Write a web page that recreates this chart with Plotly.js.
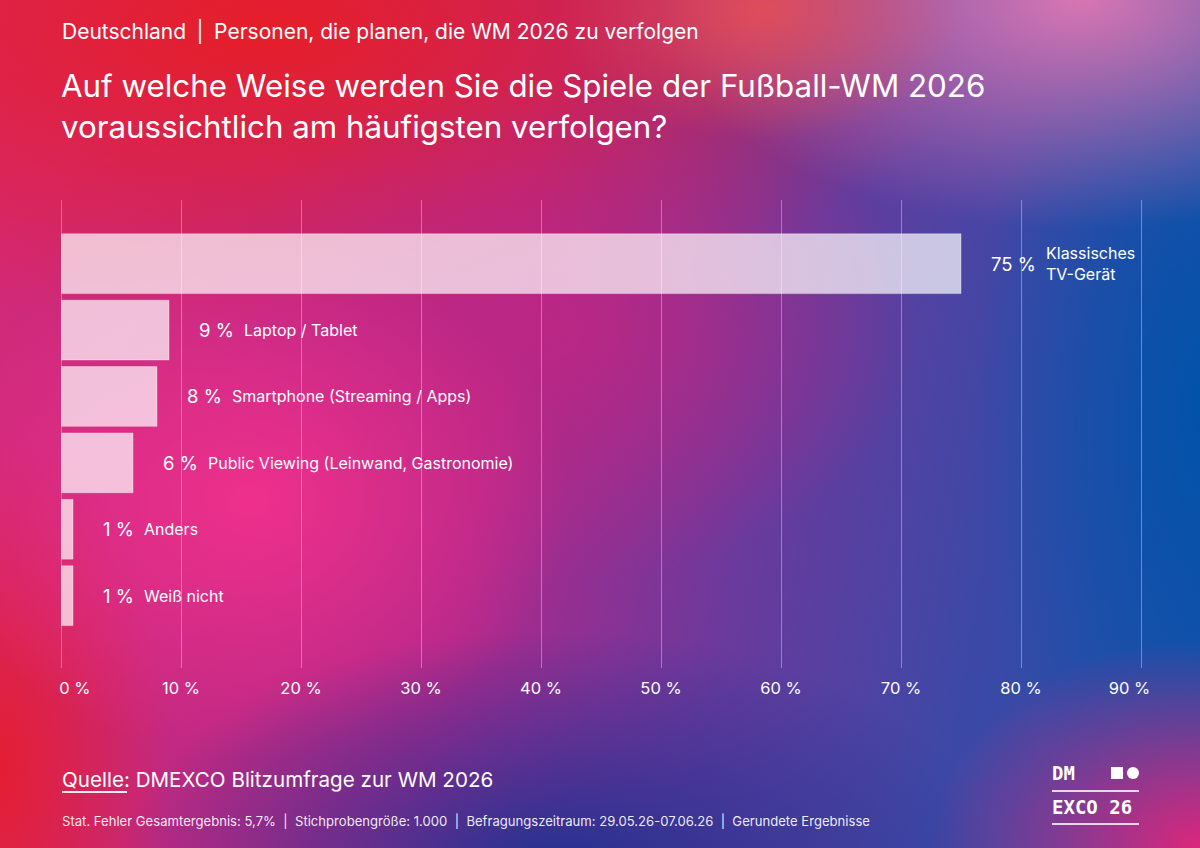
<!DOCTYPE html>
<html><head><meta charset="utf-8">
<script src="https://cdn.plot.ly/plotly-3.0.1.min.js"></script>
<style>
html,body{margin:0;padding:0;width:1200px;height:848px;overflow:hidden;}
#bg{position:absolute;left:0;top:0;width:1200px;height:848px;
background:
 radial-gradient(ellipse 270px 210px at 1200px 848px, rgba(232,36,120,0.95), rgba(232,36,120,0) 100%),
 radial-gradient(ellipse 200px 130px at 760px 10px, rgba(236,80,80,0.8), rgba(236,80,80,0) 100%),
 radial-gradient(ellipse 420px 230px at 1080px 0px, rgba(215,118,178,1), rgba(215,118,178,0) 100%),
 radial-gradient(ellipse 240px 490px at 1215px 410px, rgba(0,82,170,1), rgba(0,82,170,0) 100%),
 radial-gradient(ellipse 440px 240px at 560px 870px, rgba(34,50,145,1), rgba(34,50,145,0) 100%),
 radial-gradient(ellipse 320px 260px at 250px 500px, rgba(238,48,140,1), rgba(238,48,140,0) 100%),
 radial-gradient(ellipse 360px 250px at 560px 330px, rgba(190,38,130,0.85), rgba(190,38,130,0) 100%),
 radial-gradient(ellipse 720px 300px at 260px 30px, rgba(230,30,40,1), rgba(230,30,40,0) 100%),
 radial-gradient(ellipse 170px 330px at 0px 770px, rgba(228,30,50,1), rgba(228,30,50,0) 100%),
 linear-gradient(100deg, #d42a78 0%, #b0288a 42%, #6a3a9c 62%, #3e48a6 80%, #1a52aa 100%);
}
#chart{position:absolute;left:0;top:0;width:1200px;height:848px;}
</style>
</head><body>
<div id="bg"></div>
<div id="chart"></div>
<script>
const categories = ['Klassisches<br>TV-Gerät','Laptop / Tablet','Smartphone (Streaming / Apps)','Public Viewing (Leinwand, Gastronomie)','Anders','Weiß nicht'];
const values = [75, 9, 8, 6, 1, 1];
const valueLabels = ['75 %','9 %','8 %','6 %','1 %','1 %'];
const tickValues = [0,10,20,30,40,50,60,70,80,90];
const tickLabels = ['0 %','10 %','20 %','30 %','40 %','50 %','60 %','70 %','80 %','90 %'];

const subtitleText = 'Deutschland\u2002|\u2002Personen, die planen, die WM 2026 zu verfolgen';
const titleText = 'Auf welche Weise werden Sie die Spiele der Fußball-WM 2026<br>voraussichtlich am häufigsten verfolgen?';
const sourceText = 'Quelle: DMEXCO Blitzumfrage zur WM 2026';
const footText = 'Stat. Fehler Gesamtergebnis: 5,7%  |  Stichprobengröße: 1.000  |  Befragungszeitraum: 29.05.26-07.06.26  |  Gerundete Ergebnisse';

const FONT = 'Inter, "Noto Sans", sans-serif';
const W = 1200, H = 848;
const M = {l:61, r:55, t:200, b:180};
const PW = W - M.l - M.r, PH = H - M.t - M.b;
const XMAX = PW / 12; // 12 px per percent, plot a little wider than the 90 % grid line
const px = x => (x - M.l) / PW;
const py = y => (H - M.b - y) / PH;

const canvas = document.createElement('canvas');
const ctx = canvas.getContext('2d');
function textWidth(t, size){ ctx.font = size + 'px Inter'; return ctx.measureText(t).width; }

// first label sits right of its grid line, last label sits left of it (as in the original)
const NB = '\u00a0';
const tickText = tickLabels.map((t, i) => i === 0 ? NB.repeat(6) + t : (i === tickLabels.length - 1 ? t + NB.repeat(5) : t));

const PCT_SIZE = 18.5, LAB_SIZE = 16;
const annotations = [];
categories.forEach((c, i) => {
  annotations.push({x: values[i], y: c, xref:'x', yref:'y', text: valueLabels[i], showarrow:false,
    xanchor:'left', yanchor:'middle', xshift: 28, font:{family:FONT, size:PCT_SIZE, color:'#ffffff'}});
  annotations.push({x: values[i], y: c, xref:'x', yref:'y', text: c, showarrow:false, align:'left',
    xanchor:'left', yanchor:'middle', xshift: 28 + textWidth(valueLabels[i], PCT_SIZE) + 10,
    font:{family:FONT, size:LAB_SIZE, color:'#ffffff'}});
});
annotations.push({xref:'paper', yref:'paper', x: px(60), y: py(31), xanchor:'left', yanchor:'middle', showarrow:false,
  text: subtitleText, font:{family:FONT, size:21, color:'#ffffff'}});
annotations.push({xref:'paper', yref:'paper', x: px(59), y: py(106), xanchor:'left', yanchor:'middle', showarrow:false, align:'left',
  text: titleText, font:{family:FONT, size:31.3, color:'#ffffff'}});
annotations.push({xref:'paper', yref:'paper', x: px(60), y: py(779), xanchor:'left', yanchor:'middle', showarrow:false,
  text: sourceText, font:{family:FONT, size:20.6, color:'#ffffff'}});
annotations.push({xref:'paper', yref:'paper', x: px(60), y: py(821), xanchor:'left', yanchor:'middle', showarrow:false,
  text: footText, font:{family:FONT, size:13.1, color:'rgba(255,255,255,0.92)'}});
annotations.push({xref:'paper', yref:'paper', x: px(1050), y: py(773), xanchor:'left', yanchor:'middle', showarrow:false,
  text: '<b>DM</b>', font:{family:'"DejaVu Sans Mono", monospace', size:19, color:'#ffffff'}});
annotations.push({xref:'paper', yref:'paper', x: px(1050), y: py(807), xanchor:'left', yanchor:'middle', showarrow:false,
  text: '<b>EXCO 26</b>', font:{family:'"DejaVu Sans Mono", monospace', size:19, color:'#ffffff'}});

const shapes = [
  {type:'line', xref:'paper', yref:'paper', x0:px(62), x1:px(127), y0:py(792), y1:py(792), line:{color:'rgba(255,255,255,0.9)', width:2}},
  {type:'line', xref:'paper', yref:'paper', x0:px(1052), x1:px(1139), y0:py(791), y1:py(791), line:{color:'rgba(255,255,255,0.8)', width:2}},
  {type:'line', xref:'paper', yref:'paper', x0:px(1052), x1:px(1139), y0:py(824), y1:py(824), line:{color:'rgba(255,255,255,0.8)', width:2}},
  {type:'rect', xref:'paper', yref:'paper', x0:px(1111), x1:px(1123), y0:py(767), y1:py(779), line:{width:0}, fillcolor:'#ffffff'},
  {type:'circle', xref:'paper', yref:'paper', x0:px(1127), x1:px(1139), y0:py(767), y1:py(779), line:{width:0}, fillcolor:'#ffffff'}
];

const trace = {type:'bar', orientation:'h', x: values, y: categories, width: 0.9,
  marker:{color:'rgba(255,255,255,0.7)', line:{color:'rgba(255,255,255,0.35)', width:1}},
  hoverinfo:'none', textposition:'none'};

const layout = {
  width: W, height: H, margin: M,
  paper_bgcolor:'rgba(0,0,0,0)', plot_bgcolor:'rgba(0,0,0,0)',
  showlegend:false,
  xaxis:{range:[0, XMAX], tickvals: tickValues, ticktext: tickText, showgrid:true, gridcolor:'rgba(255,255,255,0.35)', gridwidth:1,
    zeroline:true, zerolinecolor:'rgba(255,255,255,0.35)', zerolinewidth:1, showline:false, ticks:'', ticklabelstandoff: 8,
    tickfont:{family:FONT, size:16.5, color:'#ffffff'}, fixedrange:true},
  yaxis:{type:'category', range:[6.09,-0.96], showticklabels:false, showgrid:false, zeroline:false, ticks:'', fixedrange:true},
  annotations, shapes
};
Plotly.newPlot('chart', [trace], layout, {staticPlot:true});
</script>
</body></html>
